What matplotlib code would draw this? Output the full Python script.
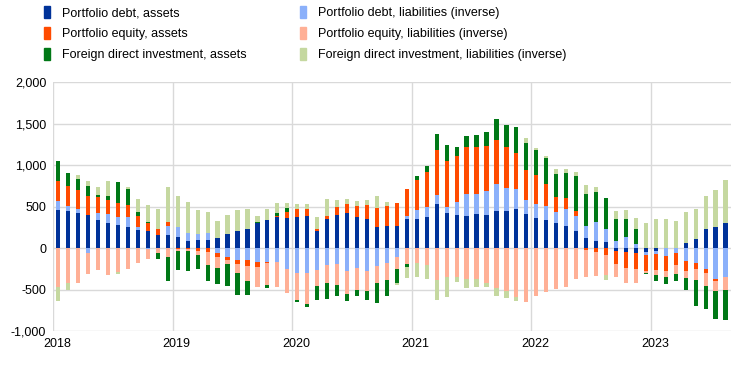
import numpy as np
import matplotlib.pyplot as plt
from matplotlib.patches import Patch
from matplotlib.ticker import FuncFormatter

plt.rcParams['font.family'] = ['Liberation Sans', 'DejaVu Sans']

# monthly flows, Jan 2018 - Aug 2023 (liabilities shown inverted)
pd_assets = [462, 450, 426, 402, 341, 305, 281, 257, 221, 209, 161, 161,
             137, 88, 100, 100, 124, 173, 209, 233, 305, 341, 378, 365,
             378, 390, 209, 353, 402, 426, 378, 353, 257, 269, 269, 353,
             353, 378, 534, 426, 402, 390, 414, 402, 450, 450, 474, 414,
             365, 341, 305, 269, 209, 124, 88, 76, -32, -44, -56, -44,
             -32, 0, 0, 64, 112, 233, 257, 305]
pd_liab = [108, 60, 48, -56, 84, 108, 96, 120, 36, -16, 0, 108,
           120, 96, 72, 84, -56, -104, -141, -141, -165, -165, -165, -249,
           -305, -297, -261, -201, -189, -273, -237, -277, -213, -177, -104, 36,
           108, 120, 108, 72, 157, 265, 241, 289, 325, 277, 241, 169,
           169, 169, 133, 205, 181, 145, 229, 157, 88, 137, 52, -36,
           -36, -92, -56, -153, -177, -249, -369, -345]
pe_assets = [241, 241, 233, 229, 193, 169, 169, 145, 133, 96, 72, 48,
             -12, -16, -32, -44, -48, -36, -48, -72, -60, -12, 12, 72,
             96, 84, 24, 36, 96, 108, 133, 169, 229, 241, 277, 325,
             361, 422, 542, 554, 554, 566, 566, 542, 530, 494, 434, 361,
             349, 265, 181, 133, 60, -20, -44, -80, -157, -193, -193, -193,
             -193, -181, -145, -120, -72, -48, -24, 0]
pe_liab = [-474, -422, -426, -261, -261, -329, -293, -257, -173, -120, -64, -104,
           -24, -24, -48, -157, -133, -48, -108, -181, -241, -273, -309, -289,
           -325, -382, -193, -217, -253, -277, -265, -237, -205, -205, -145, -189,
           -185, -201, -382, -353, -353, -378, -369, -418, -478, -514, -586, -647,
           -574, -526, -490, -466, -369, -325, -289, -241, -157, -181, -169, -32,
           -60, -72, -108, -84, -133, -157, -120, -157]
fdi_assets = [241, 157, 129, 120, 24, 48, 253, 193, 48, 12, -72, -289,
              -228, -233, -169, -193, -193, -265, -265, -169, 12, -36, 36, 48,
              -24, -36, -177, -201, -141, -92, -80, -108, -249, -193, -169, -36,
              48, 72, 193, 193, 108, 133, 145, 169, 253, 265, 313, 325,
              301, 313, 277, 301, 422, 386, 361, 373, 265, 217, 181, -12,
              -72, -84, -84, -145, -313, -277, -337, -361]
fdi_liab = [-161, -88, 48, 60, 96, 181, -24, 24, 157, 205, 241, 422,
            373, 373, 289, 253, 205, 229, 253, 241, 72, 133, 120, 60,
            60, 60, 145, 205, 84, 60, 60, 60, 145, 48, -24, -133,
            -161, -169, -241, -241, -60, -108, -104, -48, -96, -84, -48, 60,
            24, 24, 60, 48, 48, 108, 60, -60, 96, 108, 133, 305,
            353, 353, 329, 373, 361, 398, 446, 518]

years = ['2018', '2019', '2020', '2021', '2022', '2023']

series = [
    (pd_assets, '#003299', 'Portfolio debt, assets'),
    (pd_liab, '#8bb0fa', 'Portfolio debt, liabilities (inverse)'),
    (pe_assets, '#ff4b00', 'Portfolio equity, assets'),
    (pe_liab, '#ffb096', 'Portfolio equity, liabilities (inverse)'),
    (fdi_assets, '#007816', 'Foreign direct investment, assets'),
    (fdi_liab, '#c5d8a0', 'Foreign direct investment, liabilities (inverse)'),
]

n = len(pd_assets)
x = np.arange(n) + 0.5

fig = plt.figure(figsize=(7.5, 3.66), dpi=100)
ax = fig.add_axes([0.071, 0.0956, 0.903, 0.679])

# stack positives upwards and negatives downwards, in series order
pos = np.zeros(n)
neg = np.zeros(n)
for vals, color, label in series:
    v = np.array(vals, dtype=float)
    bottom = np.where(v >= 0, pos, neg)
    ax.bar(x, v, width=0.42, bottom=bottom, color=color, linewidth=0)
    pos = pos + np.clip(v, 0, None)
    neg = neg + np.clip(v, None, 0)

ax.set_xlim(0, n)
ax.set_ylim(-1000, 2000)
ax.set_yticks(np.arange(-1000, 2001, 500))
ax.yaxis.set_major_formatter(FuncFormatter(lambda v, p: f'{int(v):,}'))

year_pos = np.arange(len(years)) * 12
ax.set_xticks(year_pos)
ax.set_xticklabels([])
ax.set_xticks(year_pos + 0.4, minor=True)
ax.set_xticklabels(years, minor=True)

ax.grid(True, color='#d9d9d9', linewidth=1)
ax.set_axisbelow(True)
for s in ax.spines.values():
    s.set_visible(False)
ax.tick_params(which='both', length=0, labelsize=9, colors='black')
ax.tick_params(axis='y', pad=5)
ax.tick_params(axis='x', which='minor', pad=5)

# legend: assets in first column, liabilities in second
order = [0, 2, 4, 1, 3, 5]
handles = [Patch(color=series[i][1]) for i in order]
labels = [series[i][2] for i in order]
fig.legend(handles, labels, loc='upper left', bbox_to_anchor=(0.055, 0.99),
           ncol=2, frameon=False, fontsize=9, handlelength=0.5,
           handleheight=1.1, handletextpad=1.0, columnspacing=4.2,
           labelspacing=0.6, borderaxespad=0, borderpad=0.2)

fig.savefig('out.png', dpi=100)
